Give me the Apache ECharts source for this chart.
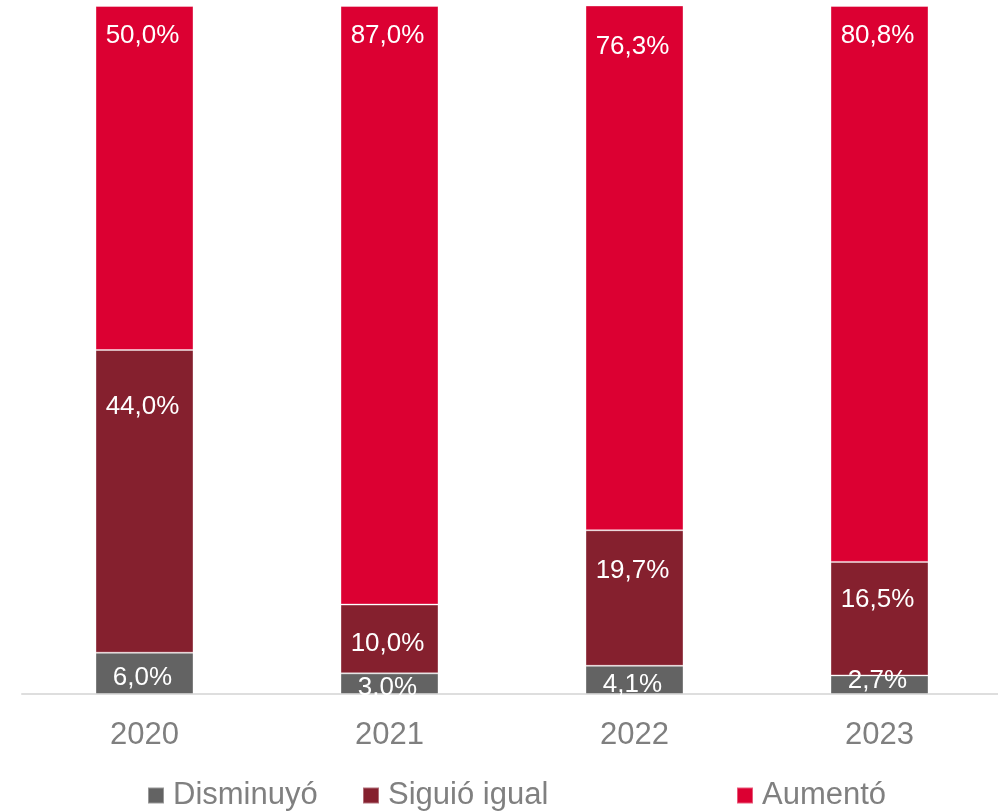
<!DOCTYPE html>
<html>
<head>
<meta charset="utf-8">
<script src="https://cdn.jsdelivr.net/npm/echarts@6/dist/echarts.min.js"></script>
<style>
  html, body { margin: 0; padding: 0; background: #fff; }
  #chart { width: 998px; height: 812px; }
</style>
</head>
<body>
<div id="chart"></div>
<script>
var years = ['2020', '2021', '2022', '2023'];
var disminuyo = [6.0, 3.0, 4.1, 2.7];
var siguioIgual = [44.0, 10.0, 19.7, 16.5];
var aumento = [50.0, 87.0, 76.3, 80.8];

// small vertical nudges of the labels (px), the source places them by hand
var nudgeDis = [4, 4, 5, -4];
var nudgeSig = [30, 12, 14, 11];
var nudgeAum = [3, 3, 14, 3];

function withNudge(values, nudges) {
    return values.map(function (v, i) {
        return { value: v, label: { offset: [-2, nudges[i]] } };
    });
}

function fmt(p) {
    return p.value.toFixed(1).replace('.', ',') + '%';
}

var myChart = echarts.init(document.getElementById('chart'));

var labelBase = {
    show: true,
    color: '#ffffff',
    fontFamily: 'Liberation Sans, Arial, sans-serif',
    fontSize: 26,
    formatter: fmt
};

var legendBase = {
    top: 780,
    padding: 0,
    itemWidth: 16,
    itemHeight: 16,
    itemGap: 0,
    icon: 'rect',
    selectedMode: false,
    textStyle: {
        color: '#808080',
        fontFamily: 'Liberation Sans, Arial, sans-serif',
        fontSize: 31,
        padding: [0, 0, 0, 4]
    }
};

var option = {
    animation: false,
    legend: [
        Object.assign({}, legendBase, { left: 147, data: ['Disminuyó'] }),
        Object.assign({}, legendBase, { left: 362, data: ['Siguió igual'] }),
        Object.assign({}, legendBase, { left: 736, data: ['Aumentó'] })
    ],
    grid: {
        left: 22,
        width: 980,
        top: 6,
        bottom: 118,
        outerBoundsMode: 'none'
    },
    xAxis: {
        type: 'category',
        data: years,
        axisLine: { lineStyle: { color: '#dedede', width: 2 } },
        axisTick: { show: false },
        axisLabel: {
            color: '#7f7f7f',
            fontFamily: 'Liberation Sans, Arial, sans-serif',
            fontSize: 31,
            margin: 26
        }
    },
    yAxis: {
        type: 'value',
        min: 0,
        max: 100,
        show: false,
        splitLine: { show: false }
    },
    series: [
        {
            name: 'Disminuyó',
            type: 'bar',
            stack: 'total',
            barWidth: 98,
            data: withNudge(disminuyo, nudgeDis),
            itemStyle: { color: '#636363', borderColor: 'rgba(255,255,255,0.35)', borderWidth: 1 },
            label: Object.assign({}, labelBase, { position: 'inside' })
        },
        {
            name: 'Siguió igual',
            type: 'bar',
            stack: 'total',
            barWidth: 98,
            data: withNudge(siguioIgual, nudgeSig),
            itemStyle: { color: '#85202e', borderColor: 'rgba(255,255,255,0.35)', borderWidth: 1 },
            label: Object.assign({}, labelBase, { position: 'insideTop', distance: 14 })
        },
        {
            name: 'Aumentó',
            type: 'bar',
            stack: 'total',
            barWidth: 98,
            data: withNudge(aumento, nudgeAum),
            itemStyle: { color: '#dc0032', borderColor: 'rgba(255,255,255,0.35)', borderWidth: 1 },
            label: Object.assign({}, labelBase, { position: 'insideTop', distance: 14 })
        }
    ]
};

myChart.setOption(option);
</script>
</body>
</html>
